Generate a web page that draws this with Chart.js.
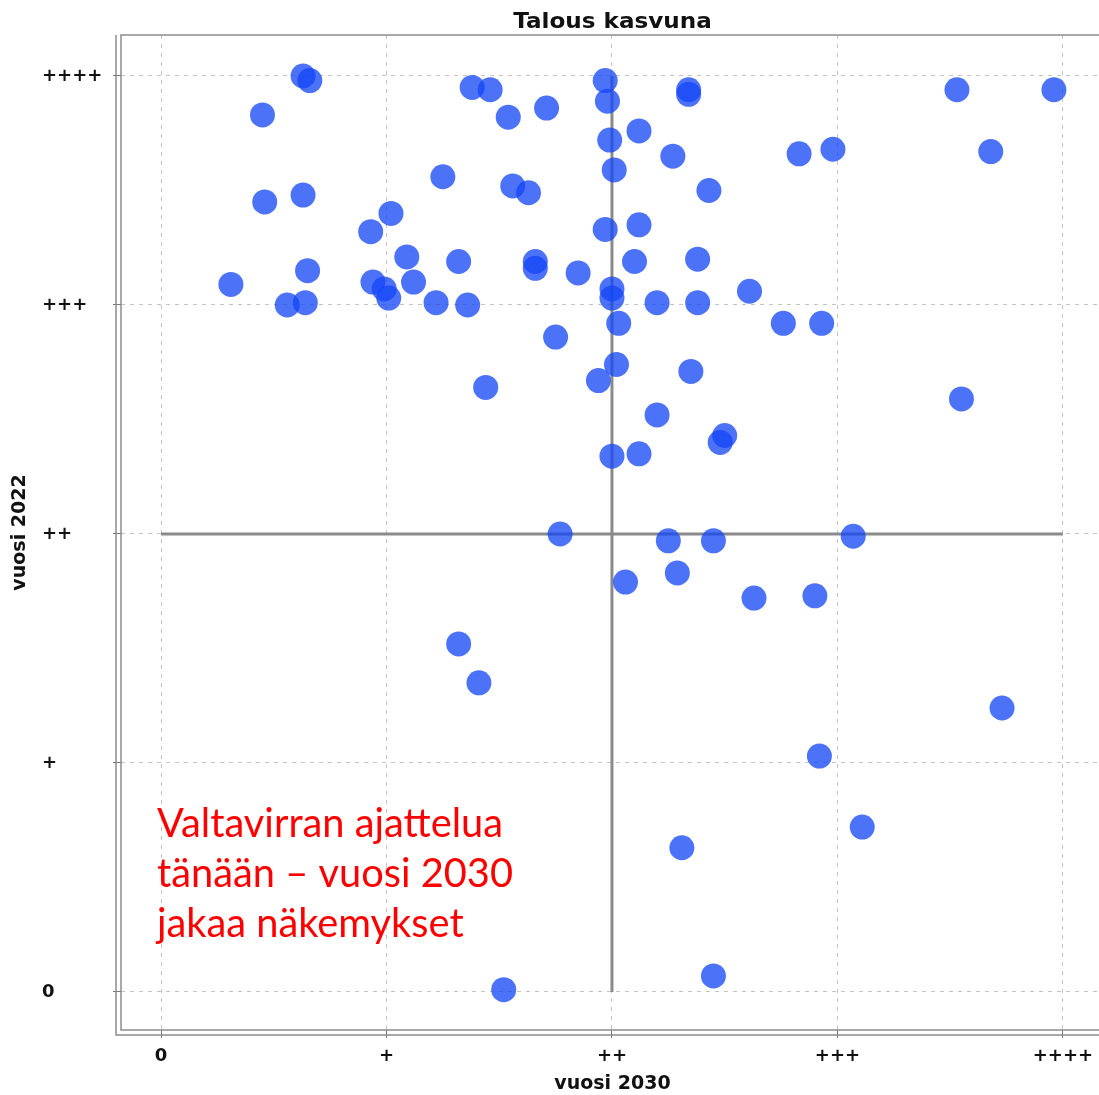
<!DOCTYPE html>
<html>
<head>
<meta charset="utf-8">
<script src="https://cdn.jsdelivr.net/npm/chart.js@4.4.1/dist/chart.umd.min.js"></script>
<style>
  html, body { margin: 0; padding: 0; background: #fff; overflow: hidden; }
  #chart { display: block; }
</style>
</head>
<body>
<canvas id="chart" width="1099" height="1095"></canvas>
<script>
// --- data (scale: 0 .. ++++ = 0 .. 4) ---
const tickValues = [0, 1, 2, 3, 4];
const tickLabels = ['0', '+', '++', '+++', '++++'];

const x2030 = [
  0.63, 0.66, 0.45, 1.38, 1.46, 1.54, 1.71, 1.97, 1.98, 2.34, 2.34, 3.53, 3.96, 1.99,
  2.12, 2.27, 2.83, 2.98, 3.68, 1.25, 1.56, 1.63, 2.01, 2.43, 0.46, 0.63, 1.02, 0.93,
  1.97, 2.12, 1.09, 1.32, 1.66, 1.66, 0.65, 1.85, 2.10, 2.38, 0.31, 0.94, 0.99, 1.01,
  1.12, 0.56, 0.64, 1.22, 1.36, 2.00, 2.00, 2.20, 2.38, 2.61, 2.03, 2.76, 2.93, 1.75,
  1.44, 1.94, 2.02, 2.35, 3.55, 2.20, 2.50, 2.48, 2.00, 2.12, 1.77, 2.25, 2.45, 3.07,
  2.06, 2.29, 2.63, 2.90, 1.32, 1.41, 3.73, 2.92, 3.11, 2.31, 2.45, 1.52
];
const y2022 = [
  4.00, 3.98, 3.83, 3.95, 3.94, 3.82, 3.86, 3.98, 3.89, 3.94, 3.92, 3.94, 3.94, 3.72,
  3.76, 3.65, 3.66, 3.68, 3.67, 3.56, 3.52, 3.49, 3.59, 3.50, 3.45, 3.48, 3.40, 3.32,
  3.33, 3.35, 3.21, 3.19, 3.19, 3.16, 3.15, 3.14, 3.19, 3.20, 3.09, 3.10, 3.07, 3.03,
  3.10, 3.00, 3.01, 3.01, 3.00, 3.07, 3.03, 3.01, 3.01, 3.06, 2.92, 2.92, 2.92, 2.86,
  2.64, 2.67, 2.74, 2.71, 2.59, 2.52, 2.43, 2.40, 2.34, 2.35, 2.00, 1.97, 1.97, 1.99,
  1.79, 1.83, 1.72, 1.73, 1.52, 1.35, 1.24, 1.03, 0.72, 0.63, 0.07, 0.01
];

// crosshair through the middle (++ / ++)
const hLineX = [0, 4];
const hLineY = [2, 2];
const vLineX = [2, 2];
const vLineY = [0, 4];

const noteLines = ['Valtavirran ajattelua', 'tänään – vuosi 2030', 'jakaa näkemykset'];

const toPoints = (xs, ys) => xs.map((x, i) => ({ x, y: ys[i] }));

const font = "'DejaVu Sans', sans-serif";

// the plot runs off the right edge of the picture
const X_MIN = -0.1774, X_MAX = 4.16, X_FULL = 4.182;

const frame = {
  id: 'frame',
  beforeDatasetsDraw(chart) {
    const { ctx, chartArea: { left, right, top, bottom } } = chart;
    ctx.save();
    ctx.strokeStyle = '#8c8c8c';
    ctx.lineWidth = 1.5;
    ctx.beginPath();
    ctx.moveTo(right + 2, top);
    ctx.lineTo(left, top);
    ctx.lineTo(left, bottom);
    ctx.lineTo(right + 2, bottom);
    // axis lines sit a few px outside the plot outline
    ctx.moveTo(left - 5, top);
    ctx.lineTo(left - 5, bottom + 5);
    ctx.lineTo(right + 2, bottom + 5);
    ctx.stroke();
    ctx.restore();
  },
  afterDraw(chart) {
    const { ctx, chartArea: { left, top, bottom }, scales: { x } } = chart;
    // centre of the full plot (incl. the part cut off on the right)
    const midX = (left + x.getPixelForValue(X_FULL)) / 2;
    ctx.save();
    ctx.fillStyle = '#111';
    ctx.textAlign = 'center';
    ctx.textBaseline = 'alphabetic';
    ctx.font = `bold 21px ${font}`;
    ctx.save();
    ctx.translate(midX, 28);
    ctx.scale(1.1, 1);
    ctx.fillText('Talous kasvuna', 0, 0);
    ctx.restore();

    ctx.textBaseline = 'middle';
    ctx.translate(20, (top + bottom) / 2);
    ctx.rotate(-Math.PI / 2);
    ctx.font = `bold 19px ${font}`;
    ctx.fillText('vuosi 2022', 0, 0);
    ctx.restore();

    ctx.save();
    ctx.fillStyle = '#111';
    ctx.textAlign = 'center';
    ctx.textBaseline = 'middle';
    ctx.font = `bold 19px ${font}`;
    ctx.fillText('vuosi 2030', midX, 1084);
    ctx.restore();

    // red note, squeezed to the width it has in the picture
    ctx.save();
    ctx.fillStyle = '#ff0000';
    ctx.font = "41px Lato, 'Liberation Sans', sans-serif";
    ctx.textAlign = 'left';
    ctx.textBaseline = 'alphabetic';
    const w = ctx.measureText(noteLines[0]).width;
    const sx = 346 / w;
    ctx.translate(left + 36, 0);
    ctx.scale(sx, 1);
    noteLines.forEach((line, i) => ctx.fillText(line, 0, 837 + i * 50));
    ctx.restore();
  }
};

const grid = {
  color: '#c4c4c4',
  lineWidth: 1,
  tickLength: 8,
  tickColor: '#777',
  tickBorderDash: [],
  tickWidth: 1
};
const border = { display: false, dash: [4, 5] };

new Chart(document.getElementById('chart'), {
  type: 'scatter',
  data: {
    datasets: [
      {
        data: toPoints(x2030, y2022),
        backgroundColor: 'rgba(20, 70, 245, 0.76)',
        borderWidth: 0,
        pointRadius: 12.5,
        pointHoverRadius: 12.5,
        order: 1
      },
      {
        type: 'line',
        data: toPoints(hLineX, hLineY),
        borderColor: '#8a8a8a',
        borderWidth: 3,
        pointRadius: 0,
        order: 2
      },
      {
        type: 'line',
        data: toPoints(vLineX, vLineY),
        borderColor: '#8a8a8a',
        borderWidth: 3,
        pointRadius: 0,
        order: 2
      }
    ]
  },
  options: {
    responsive: false,
    animation: false,
    devicePixelRatio: 1,
    layout: { autoPadding: false, padding: { top: 35, left: 42, right: 0, bottom: 0 } },
    plugins: {
      legend: { display: false },
      tooltip: { enabled: false },
      title: { display: false }
    },
    scales: {
      x: {
        type: 'linear',
        min: X_MIN,
        max: X_MAX,
        grid,
        border,
        afterBuildTicks: (s) => { s.ticks = tickValues.map(v => ({ value: v })); },
        afterFit: (s) => { s.height = 65; s.paddingLeft = 0; s.paddingRight = 0; },
        ticks: {
          color: '#111',
          padding: 8,
          font: { family: font, weight: 'bold', size: 18 },
          callback: (v) => tickLabels[tickValues.indexOf(v)]
        }
      },
      y: {
        type: 'linear',
        min: -0.166,
        max: 4.179,
        grid,
        border,
        afterBuildTicks: (s) => { s.ticks = tickValues.map(v => ({ value: v })); },
        afterFit: (s) => { s.width = 79; s.paddingTop = 0; s.paddingBottom = 0; },
        ticks: {
          color: '#111',
          crossAlign: 'far',
          font: { family: font, weight: 'bold', size: 18 },
          callback: (v) => tickLabels[tickValues.indexOf(v)]
        }
      }
    }
  },
  plugins: [frame]
});
</script>
</body>
</html>
